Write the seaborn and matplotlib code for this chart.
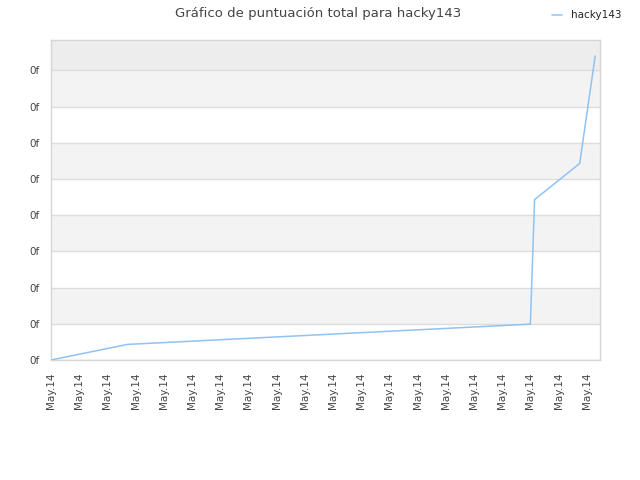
import matplotlib
matplotlib.use("Agg")
import matplotlib.pyplot as plt
import seaborn as sns
import pandas as pd
import numpy as np

# data (x in tick-spacing units, y in gridline units)
player = "hacky143"
x_vals = [0.0, 2.7, 17.0, 17.15, 18.75, 19.3]
y_vals = [0.0, 0.43, 0.99, 4.43, 5.43, 8.4]
x_ticks = list(range(20))
x_labels = ["May.14"] * 20
y_ticks = list(range(9))
y_labels = ["0f"] * 9

df = pd.DataFrame({"x": x_vals, "score": y_vals, "player": player})

sns.set_style("white")
plt.rcParams["font.family"] = ["DejaVu Sans"]

fig = plt.figure(figsize=(6.4, 4.8), dpi=100)
ax = fig.add_axes([51 / 640, 120 / 480, 549 / 640, 320 / 480])

ymax = 8.84
xmax = 19.47

# alternating background bands
for i in range(9):
    top = min(i + 1, ymax)
    if i == 8:
        color = "#ededed"
    elif i % 2 == 1:
        color = "#f3f3f3"
    else:
        color = "#ffffff"
    ax.axhspan(i, top, color=color, zorder=0, lw=0)

sns.lineplot(data=df, x="x", y="score", hue="player", palette=["#90c2f2"],
             linewidth=1.1, ax=ax, legend=False, zorder=3, estimator=None, sort=False)

ax.set_xlim(0, xmax)
ax.set_ylim(0, ymax)
ax.set_yticks(y_ticks)
ax.set_yticklabels(y_labels)
ax.set_xticks(x_ticks)
ax.set_xticklabels(x_labels, rotation=90)
ax.set_xlabel("")
ax.set_ylabel("")
ax.yaxis.grid(True, color="#dddddd", linewidth=1, zorder=1)
ax.set_axisbelow(True)
ax.tick_params(axis="y", length=0, labelsize=7.5, labelcolor="#444444", pad=8.5)
ax.tick_params(axis="x", length=0, labelsize=7.5, labelcolor="#444444", pad=9)

for side in ["left", "bottom", "top", "right"]:
    ax.spines[side].set_visible(True)
    ax.spines[side].set_color("#d6d6d6")
    ax.spines[side].set_linewidth(1)

fig.text(318 / 640, 1 - 13 / 480, "Gráfico de puntuación total para hacky143",
         ha="center", va="center", fontsize=9.5, color="#444444")

handle = plt.Line2D([], [], color="#90c2f2", linewidth=1.1)
fig.legend([handle], [player], loc="center right", bbox_to_anchor=(0.985, 1 - 15.5 / 480),
           frameon=False, fontsize=7.5, handlelength=1.0, handletextpad=0.8)

fig.savefig("out.png", dpi=100)
